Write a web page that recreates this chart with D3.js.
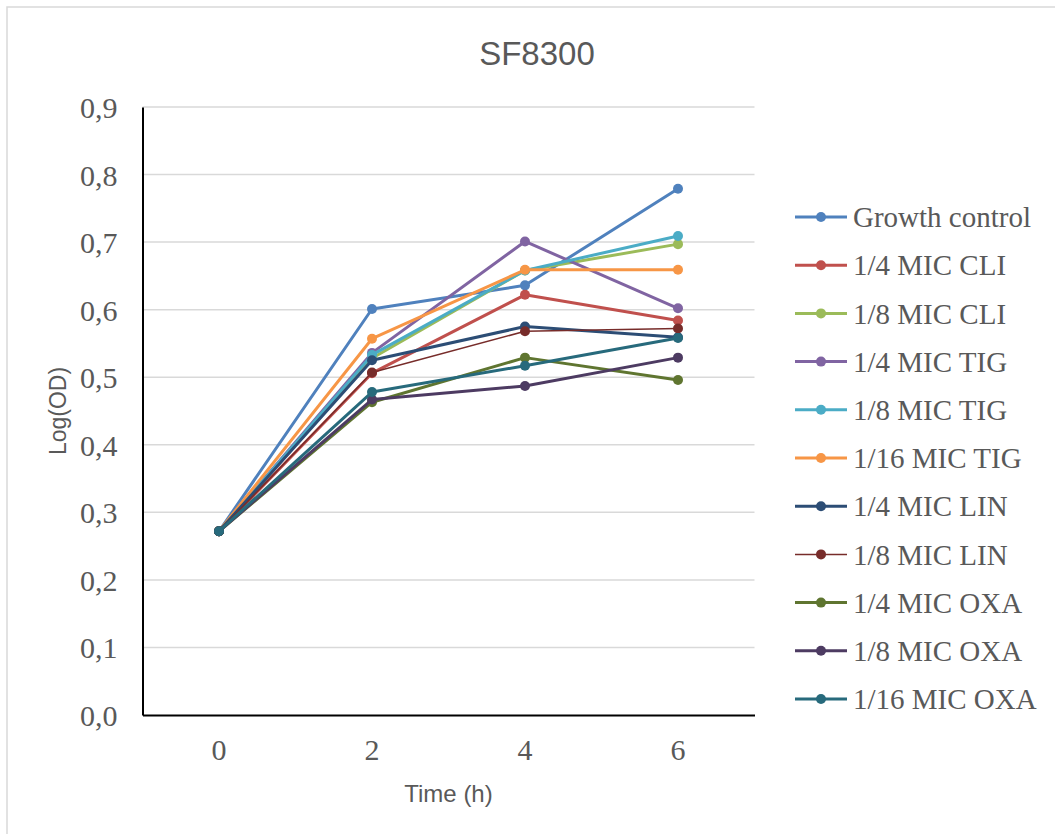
<!DOCTYPE html>
<html>
<head>
<meta charset="utf-8">
<script src="https://cdn.jsdelivr.net/npm/d3@7"></script>
<style>
  html, body { margin: 0; padding: 0; background: #fff; }
  svg { display: block; }
</style>
</head>
<body>
<svg id="chart" width="1055" height="834"></svg>
<script>
// ---- data ----
const chartTitle = "SF8300";
const xLabel = "Time (h)";
const yLabel = "Log(OD)";
const timePoints = ["0", "2", "4", "6"];
const yTicks = [0, 0.1, 0.2, 0.3, 0.4, 0.5, 0.6, 0.7, 0.8, 0.9];
const seriesNames = ["Growth control", "1/4 MIC CLI", "1/8 MIC CLI", "1/4 MIC TIG", "1/8 MIC TIG",
  "1/16 MIC TIG", "1/4 MIC LIN", "1/8 MIC LIN", "1/4 MIC OXA", "1/8 MIC OXA", "1/16 MIC OXA"];
const seriesColors = ["#4F81BD", "#C0504D", "#9BBB59", "#8064A2", "#4BACC6",
  "#F79646", "#2C4D75", "#772C2A", "#5F7530", "#4D3B62", "#276A7C"];
const growthControl = [0.272, 0.601, 0.636, 0.779];
const cli4  = [0.272, 0.506, 0.622, 0.584];
const cli8  = [0.272, 0.528, 0.658, 0.697];
const tig4  = [0.272, 0.536, 0.701, 0.602];
const tig8  = [0.272, 0.533, 0.658, 0.709];
const tig16 = [0.272, 0.557, 0.659, 0.659];
const lin4  = [0.272, 0.525, 0.575, 0.559];
const lin8  = [0.272, 0.507, 0.568, 0.572];
const oxa4  = [0.272, 0.463, 0.529, 0.496];
const oxa8  = [0.272, 0.467, 0.487, 0.529];
const oxa16 = [0.272, 0.478, 0.517, 0.558];
const seriesValues = [growthControl, cli4, cli8, tig4, tig8, tig16, lin4, lin8, oxa4, oxa8, oxa16];

// ---- layout ----
const svg = d3.select("#chart");
const plot = { left: 142.5, right: 754.5, top: 107, bottom: 715 };
const textColor = "#595959";
const serif = "'Liberation Serif', 'Times New Roman', serif";
const sans = "'Liberation Sans', Arial, sans-serif";

// chart border (only top/left visible)
svg.append("rect").attr("x", 7).attr("y", 7).attr("width", 1200).attr("height", 1000)
  .attr("fill", "none").attr("stroke", "#d9d9d9").attr("stroke-width", 1.5);

const x = d3.scaleBand().domain(timePoints).range([plot.left, plot.right]);
const y = d3.scaleLinear().domain([0, 0.9]).range([plot.bottom, plot.top]);
const fmt = v => d3.format(".1f")(v).replace(".", ",");

// gridlines
svg.append("g").selectAll("line").data(yTicks.filter(d => d > 0)).join("line")
  .attr("x1", plot.left).attr("x2", plot.right)
  .attr("y1", d => y(d)).attr("y2", d => y(d))
  .attr("stroke", "#d9d9d9").attr("stroke-width", 1.5);

// y axis
const yAxis = svg.append("g").attr("transform", `translate(${plot.left},0)`)
  .call(d3.axisLeft(y).tickValues(yTicks).tickFormat(fmt).tickSize(0).tickPadding(25));
yAxis.select(".domain").attr("stroke", "#000").attr("stroke-width", 2);
yAxis.selectAll("text").attr("font-family", serif).attr("font-size", 30)
  .attr("fill", textColor).attr("dy", "0.35em");

// x axis
const xAxis = svg.append("g").attr("transform", `translate(0,${plot.bottom})`)
  .call(d3.axisBottom(x).tickSize(0).tickPadding(24));
xAxis.select(".domain").attr("stroke", "#000").attr("stroke-width", 2);
xAxis.selectAll("text").attr("font-family", serif).attr("font-size", 30)
  .attr("fill", textColor);

// title & axis labels
svg.append("text").attr("x", 537).attr("y", 65).attr("text-anchor", "middle")
  .attr("font-family", sans).attr("font-size", 33).attr("fill", textColor).text(chartTitle);
svg.append("text").attr("x", (plot.left + plot.right) / 2).attr("y", 802).attr("text-anchor", "middle")
  .attr("font-family", sans).attr("font-size", 24).attr("fill", textColor).text(xLabel);
svg.append("text").attr("transform", `translate(66,${(plot.top + plot.bottom) / 2}) rotate(-90)`)
  .attr("text-anchor", "middle")
  .attr("font-family", sans).attr("font-size", 23).attr("fill", textColor).text(yLabel);

// series
const line = d3.line().x((d, i) => x(timePoints[i]) + x.bandwidth() / 2).y(d => y(d));
const widthFor = name => name === "1/8 MIC LIN" ? 1.5 : 3;
seriesValues.forEach((vals, si) => {
  const g = svg.append("g");
  g.append("path").datum(vals).attr("d", line).attr("fill", "none")
    .attr("stroke", seriesColors[si]).attr("stroke-width", widthFor(seriesNames[si]))
    .attr("stroke-linejoin", "round");
  g.selectAll("circle").data(vals).join("circle")
    .attr("cx", (d, i) => x(timePoints[i]) + x.bandwidth() / 2)
    .attr("cy", d => y(d)).attr("r", 5).attr("fill", seriesColors[si]);
});

// legend
const legend = svg.append("g");
seriesNames.forEach((name, i) => {
  const ly = 217 + i * 48.2;
  const g = legend.append("g").attr("transform", `translate(0,${ly})`);
  g.append("line").attr("x1", 795).attr("x2", 847).attr("y1", 0).attr("y2", 0)
    .attr("stroke", seriesColors[i]).attr("stroke-width", widthFor(name));
  g.append("circle").attr("cx", 821).attr("cy", 0).attr("r", 5).attr("fill", seriesColors[i]);
  g.append("text").attr("x", 853).attr("y", 0).attr("dy", "0.35em")
    .attr("font-family", serif).attr("font-size", 29).attr("fill", textColor).text(name);
});
</script>
</body>
</html>
